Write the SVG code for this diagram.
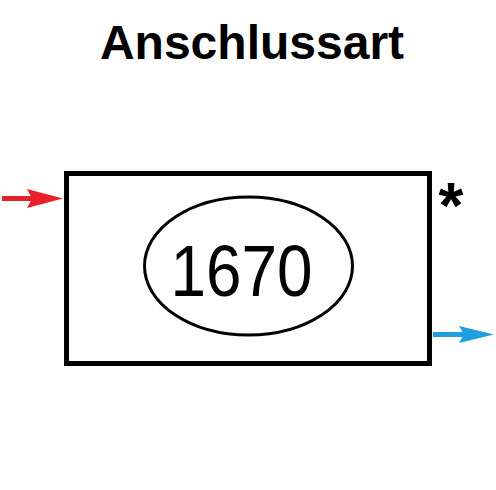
<svg xmlns="http://www.w3.org/2000/svg" width="496" height="490" viewBox="0 0 496 490">
<style>
text{font-family:"Liberation Sans",Arial,sans-serif;fill:#000}
.box{fill:none;stroke:#000;stroke-width:5}
</style>
<rect width="496" height="490" fill="#fff"/>
<text x="252" y="59" font-size="48" font-weight="bold" text-anchor="middle">Anschlussart</text>
<g id="node-box">
<rect class="box" x="66.5" y="173.5" width="363" height="190"/>
<ellipse cx="248.5" cy="266" rx="104" ry="69" fill="none" stroke="#000" stroke-width="3"/>
<text x="241.5" y="296" font-size="73" text-anchor="middle" textLength="142" lengthAdjust="spacingAndGlyphs">1670</text>
<text x="451" y="228" font-size="64" font-weight="bold" text-anchor="middle">*</text>
</g>
<g id="connectors">
<line x1="2" y1="198.5" x2="32" y2="198.5" stroke="#e8202a" stroke-width="5"/>
<polygon points="27,189 63,198.5 27,208 32,198.5" fill="#e8202a"/>
<line x1="433" y1="334.5" x2="464" y2="334.5" stroke="#1ea0e0" stroke-width="5"/>
<polygon points="459,326 494,334.5 459,343 464,334.5" fill="#1ea0e0"/>
</g>
</svg>
